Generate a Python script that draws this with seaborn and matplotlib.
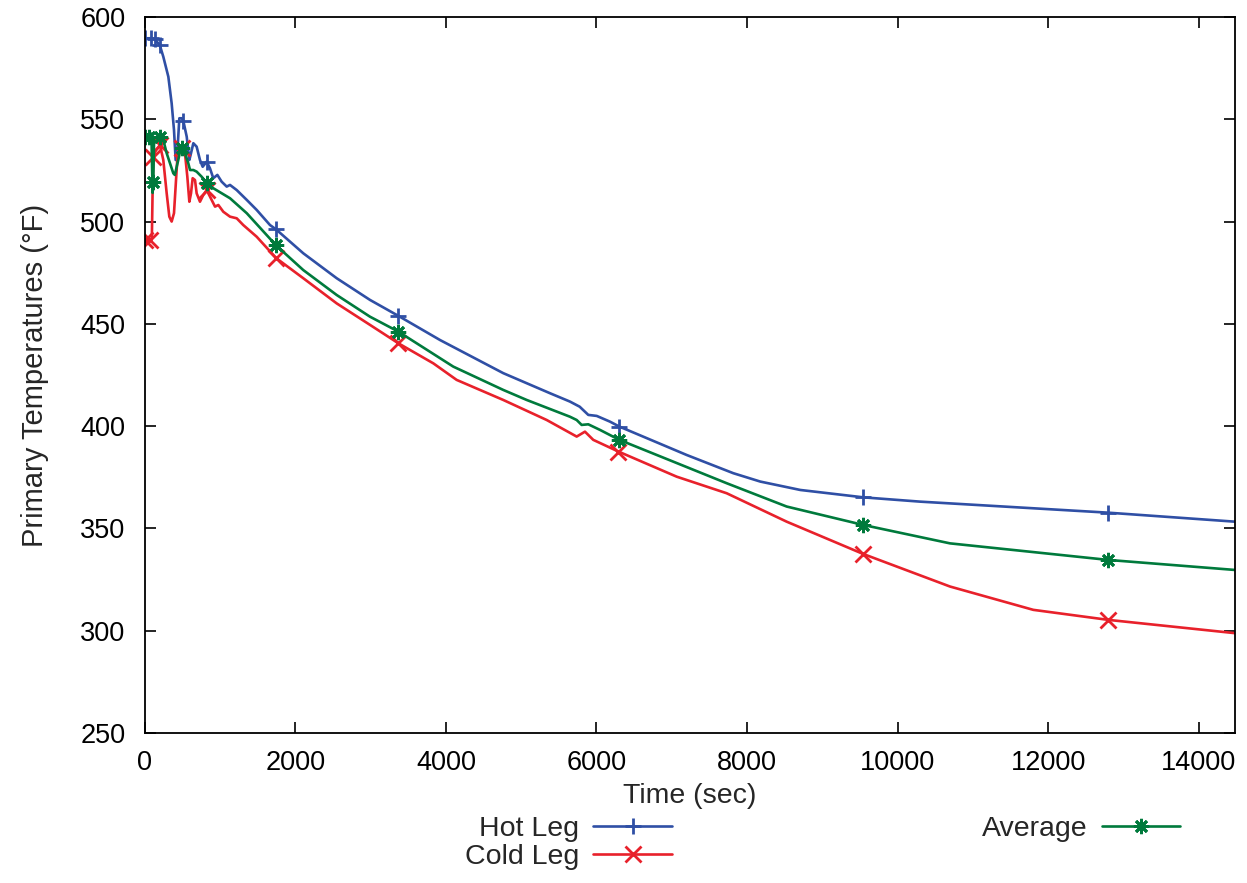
import numpy as np
import pandas as pd
import matplotlib
matplotlib.use("Agg")
import matplotlib.pyplot as plt
import seaborn as sns

# ---- data ----
hot_t = [0, 90, 135, 200, 247, 314, 358, 389, 411, 438, 460, 491, 513, 558, 593, 615, 646, 690,
         734, 770, 823, 867, 911, 965, 1022, 1089, 1133, 1222, 1355, 1487, 1664, 1744, 2106,
         2550, 2992, 3369, 3922, 4762, 5382, 5648, 5777, 5891, 6003, 6179, 6303, 7198, 7817,
         8176, 8707, 9543, 10296, 12797, 14480]
hot_v = [589.6, 589.6, 589.1, 586.3, 580.6, 570.8, 557.8, 544.8, 530.1, 536.6, 550.5, 550.5,
         549.2, 541.5, 530.1, 533.4, 538.3, 536.6, 530.1, 526.8, 529.3, 526.0, 521.2, 522.8,
         519.5, 517.1, 517.9, 515.4, 510.6, 505.7, 498.3, 496.2, 484.5, 472.3, 461.7, 453.9,
         442.1, 425.9, 416.1, 412.0, 409.5, 405.5, 405.0, 402.2, 399.8, 385.9, 377.0, 372.9,
         368.8, 365.2, 363.1, 357.7, 353.3]
hot_marks = [0, 90, 135, 200, 513, 823, 1744, 3369, 6303, 9543, 12797]

avg_t = [0, 61, 90, 105, 114, 125, 203, 247, 292, 336, 380, 400, 446, 478, 491, 535, 579, 602,
         646, 690, 757, 823, 911, 1133, 1355, 1744, 2106, 2550, 2992, 3369, 4098, 4762, 5073,
         5648, 5737, 5803, 5891, 6050, 6303, 7729, 8526, 9543, 10695, 12797, 14480]
avg_v = [541.2, 541.2, 541.2, 514.0, 519.5, 541.2, 541.2, 539.9, 533.4, 528.5, 523.6, 522.8,
         530.1, 535.8, 535.8, 533.4, 528.5, 525.2, 525.2, 524.4, 521.9, 518.9, 516.3, 511.4,
         504.1, 488.4, 476.3, 464.1, 453.5, 446.2, 429.1, 417.7, 412.8, 404.6, 403.0, 400.6,
         400.9, 398.1, 393.3, 372.1, 360.7, 351.7, 342.7, 334.6, 329.7]
avg_marks = [0, 61, 114, 203, 491, 823, 1744, 3369, 6303, 9543, 12797]

cold_t = [0, 70, 95, 105, 114, 150, 203, 247, 292, 327, 358, 389, 416, 438, 460, 491, 535, 566,
          593, 615, 637, 668, 690, 734, 778, 823, 867, 934, 978, 1044, 1133, 1222, 1309, 1487,
          1744, 2106, 2550, 2992, 3369, 3833, 4143, 4762, 5339, 5737, 5847, 5957, 6290, 7065,
          7729, 8526, 9543, 10695, 11801, 12797, 14480]
cold_v = [491.0, 491.0, 492.0, 515.0, 531.7, 535.0, 537.4, 530.1, 513.8, 502.4, 500.0, 504.1,
          520.3, 533.4, 537.4, 535.8, 533.4, 522.0, 509.7, 513.8, 521.2, 520.3, 513.8, 509.7,
          513.0, 515.4, 512.2, 507.3, 508.1, 504.8, 502.4, 501.6, 498.3, 492.6, 482.2, 472.3,
          460.0, 449.5, 440.5, 430.7, 422.6, 412.8, 403.0, 394.9, 397.3, 393.3, 387.6, 375.3,
          367.2, 353.3, 337.5, 321.6, 310.2, 305.3, 298.8]
cold_marks = [0, 70, 114, 203, 491, 823, 1744, 3369, 6290, 9543, 12797]

x_ticks = [0, 2000, 4000, 6000, 8000, 10000, 12000, 14000]
y_ticks = [250, 300, 350, 400, 450, 500, 550, 600]

# ---- style ----
sns.set_theme(style="ticks")
plt.rcParams["font.family"] = ["Liberation Sans", "DejaVu Sans"]

fig = plt.figure(figsize=(12.47, 8.83), dpi=100)
ax = fig.add_axes([144.7 / 1247, 1 - 733 / 883, (1235 - 144.7) / 1247, (733 - 17) / 883])

series = [
    ("Hot Leg", hot_t, hot_v, hot_marks, "#2f4fa5", "+"),
    ("Cold Leg", cold_t, cold_v, cold_marks, "#e8212b", "x"),
    ("Average", avg_t, avg_v, avg_marks, "#007a3c", (8, 2, 0)),
]
handles = []
for name, t, v, marks, col, mk in series:
    df = pd.DataFrame({"t": t, "v": v})
    idx = [i for i, tt in enumerate(t) if tt in marks]
    sns.lineplot(data=df, x="t", y="v", ax=ax, sort=False, estimator=None, color=col,
                 linewidth=1.9, marker=mk, markersize=11, markeredgewidth=2.0,
                 markeredgecolor=col, markevery=idx, label=name, legend=False)
    handles.append(ax.lines[-1])

ax.set_xlim(0, 14480)
ax.set_ylim(250, 600)
ax.set_xticks(x_ticks)
ax.set_yticks(y_ticks)
ax.tick_params(axis="both", direction="in", length=8, width=1.2, labelsize=19.5,
               top=True, right=True, colors="black")
ax.tick_params(axis="y", pad=14)
ax.tick_params(axis="x", pad=12)
for s in ax.spines.values():
    s.set_linewidth(1.3)
    s.set_color("black")

ax.set_xlabel("Time (sec)", fontsize=20.5, labelpad=5)
ax.set_ylabel("Primary Temperatures (°F)", fontsize=21, labelpad=22)

leg = fig.legend(handles=handles, labels=[h.get_label() for h in handles],
                 loc="upper left", bbox_to_anchor=(465 / 1247, 1 - 816 / 883),
                 ncol=2, markerfirst=False, frameon=False, fontsize=20.5,
                 handlelength=2.75, handletextpad=0.5, columnspacing=10.9,
                 labelspacing=0.07, borderpad=0, borderaxespad=0)
for col in leg._legend_handle_box.get_children():
    col.align = "right"

fig.savefig("out.png", dpi=100)
